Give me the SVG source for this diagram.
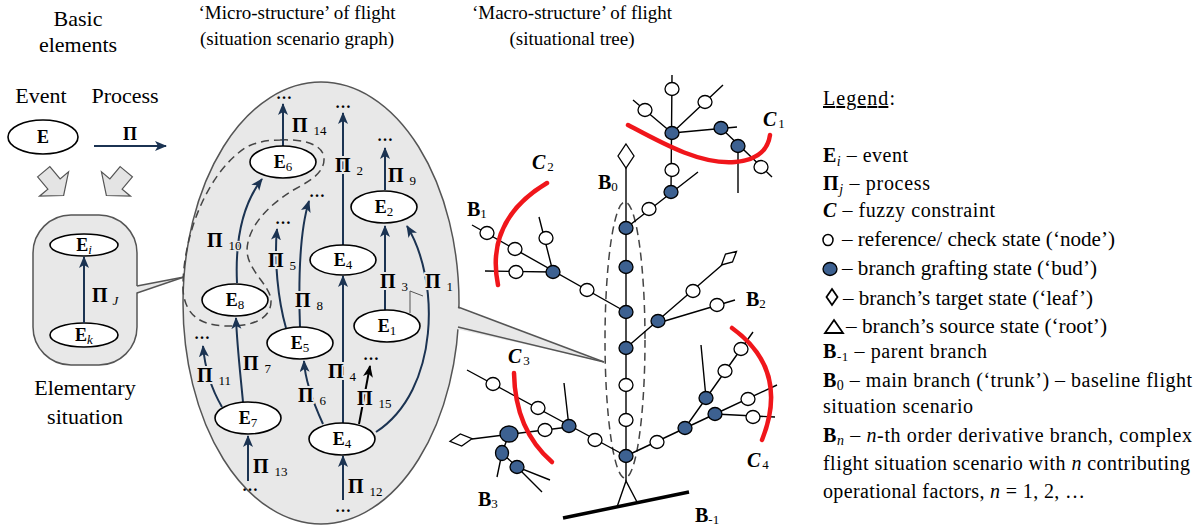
<svg xmlns="http://www.w3.org/2000/svg" width="1204" height="530" viewBox="0 0 1204 530">
<defs>
<style>
text{font-family:"Liberation Serif","Times New Roman",serif;fill:#000}
.h{font-size:19px;text-anchor:middle}
.hb{font-size:22px;text-anchor:middle}
.eb{font-size:18px;font-weight:bold;text-anchor:middle}
.sb{font-size:13px;font-weight:normal}
.pl{font-size:20px;font-weight:bold;stroke:#e8e8e8;stroke-width:4;paint-order:stroke;stroke-linejoin:round}
.ps{font-size:13px;font-weight:normal;stroke-width:2.5}
.dots{font-size:16px;font-weight:bold;text-anchor:middle}
.ev{fill:#fff;stroke:#000;stroke-width:1.6}
.ar{fill:none;stroke:#1b3352;stroke-width:2;marker-end:url(#ah)}
.ark{fill:none;stroke:#000;stroke-width:2;marker-end:url(#ahk)}
.tl{fill:none;stroke:#000;stroke-width:1.4}
.nd{fill:#fff;stroke:#000;stroke-width:1.3}
.bd{fill:#3d6191;stroke:#000;stroke-width:1.3}
.red{fill:none;stroke:#f0161b;stroke-width:4.5;stroke-linecap:round}
.bl{font-size:20px;font-weight:bold}
.cl{font-size:20px;font-weight:bold;font-style:italic}
.lg{font-size:20px}
.grey{fill:#e8e8e8;stroke:#555;stroke-width:1.5}
.dash{fill:none;stroke:#444;stroke-width:1.5;stroke-dasharray:8,5}
</style>
<marker id="ah" markerUnits="userSpaceOnUse" markerWidth="14" markerHeight="12" refX="11" refY="5" orient="auto"><path d="M0,0 L12,5 L0,10 L3,5 Z" fill="#1b3352"/></marker>
<marker id="ahk" markerUnits="userSpaceOnUse" markerWidth="14" markerHeight="12" refX="11" refY="5" orient="auto"><path d="M0,0 L12,5 L0,10 L3,5 Z" fill="#000"/></marker>
<path id="blk" d="M-8,-16 L8,-16 L8,0 L19,0 L0,15 L-19,0 L-8,0 Z" fill="#e4e4e4" stroke="#555" stroke-width="1.2"/>
</defs>

<!-- Headers -->
<g id="headers">
<text class="hb" x="78" y="26">Basic</text>
<text class="hb" x="78" y="52">elements</text>
<text class="h" x="297" y="19">‘Micro-structure’ of flight</text>
<text class="h" x="297" y="45">(situation scenario graph)</text>
<text class="h" x="572" y="19">‘Macro-structure’ of flight</text>
<text class="h" x="572" y="45">(situational tree)</text>
</g>

<!-- Basic elements -->
<g id="basic">
<text class="hb" x="41" y="103">Event</text>
<text class="hb" x="125" y="103">Process</text>
<ellipse class="ev" cx="43" cy="137" rx="35" ry="17"/>
<text class="eb" x="43" y="143">E</text>
<line x1="94" y1="146" x2="166" y2="146" class="ar"/>
<text class="eb" x="130" y="140" font-size="20">Π</text>
<use href="#blk" transform="translate(54,184) rotate(-40)"/>
<use href="#blk" transform="translate(116,184) rotate(40)"/>
</g>

<!-- Elementary situation -->
<g id="elementary">
<rect class="grey" x="33" y="215" width="104" height="150" rx="38" ry="38"/>
<polygon points="135.5,286.3 184,277 135.5,292.7" fill="#e8e8e8"/>
<line x1="137" y1="286" x2="184" y2="277" stroke="#555" stroke-width="1.5"/>
<line x1="137" y1="293" x2="184" y2="277" stroke="#555" stroke-width="1.5"/>
<ellipse class="ev" cx="84" cy="245" rx="34" ry="11"/>
<text class="eb" x="84" y="251">E<tspan class="sb" font-style="italic" dy="3">i</tspan></text>
<ellipse class="ev" cx="84" cy="335" rx="34" ry="12"/>
<text class="eb" x="84" y="341">E<tspan class="sb" font-style="italic" dy="3">k</tspan></text>
<line x1="84" y1="323" x2="84" y2="257" class="ar"/>
<text class="pl" x="92" y="302">Π<tspan class="ps" font-style="italic" dx="5" dy="3">J</tspan></text>
<text class="hb" x="85" y="395">Elementary</text>
<text class="hb" x="85" y="424">situation</text>
</g>

<!-- Micro-structure ellipse -->
<g id="micro-frame">
<ellipse class="grey" cx="321" cy="303" rx="138" ry="221"/>
<polygon points="452,306 604,362 452,328" fill="#e8e8e8"/>
<line x1="458" y1="307" x2="604" y2="362" stroke="#555" stroke-width="1.5"/>
<line x1="458" y1="327" x2="604" y2="362" stroke="#555" stroke-width="1.5"/>
<path class="dash" d="M280,140 C300,139 323,143 324,158 C325,175 305,183 290,192 C270,205 248,225 247,250 C247,270 270,285 271,300 C272,320 250,327 225,326 C200,325 185,315 183,290 C182,240 205,175 245,148 C255,142 268,140 280,140 Z"/>
<path d="M410,313 L410,291 L423,296" fill="none" stroke="#555" stroke-width="1"/>
</g>

<!-- Micro connectors -->
<g id="micro-connectors">
<path class="ar" d="M283,146 L283,104"/>
<path class="ar" d="M343,245 L343,113"/>
<path class="ar" d="M385,190 L385,148"/>
<path class="ar" d="M385,310 L385,226"/>
<path class="ar" d="M376,432 C440,390 440,280 407,226"/>
<path class="ar" d="M343,425 L343,276"/>
<path class="ark" d="M359,424 L370,366"/>
<path class="ar" d="M323,424 C312,400 305,380 304,361"/>
<path class="ar" d="M300,327 C298,270 300,230 309,201"/>
<path class="ar" d="M286,328 C278,300 274,260 277,229"/>
<path class="ar" d="M237,283 C235,240 242,205 262,179"/>
<path class="ar" d="M243,402 C240,370 237,345 236,318"/>
<path class="ar" d="M222,407 C212,390 205,370 203,346"/>
<path class="ar" d="M248,481 L248,436"/>
<path class="ar" d="M343,500 L343,456"/>
</g>

<!-- Micro labels -->
<g id="micro-labels">
<text class="dots" x="284" y="99">…</text>
<text class="dots" x="343" y="108">…</text>
<text class="dots" x="385" y="141">…</text>
<text class="dots" x="371" y="360">…</text>
<text class="dots" x="317" y="197">…</text>
<text class="dots" x="283" y="224">…</text>
<text class="dots" x="202" y="339">…</text>
<text class="dots" x="250" y="491">…</text>
<text class="dots" x="343" y="512">…</text>
<text class="pl" x="292" y="132">Π<tspan class="ps" dx="6" dy="3">14</tspan></text>
<text class="pl" x="335" y="172">Π<tspan class="ps" dx="6" dy="3">2</tspan></text>
<text class="pl" x="388" y="182">Π<tspan class="ps" dx="6" dy="3">9</tspan></text>
<text class="pl" x="380" y="288">Π<tspan class="ps" dx="6" dy="3">3</tspan></text>
<text class="pl" x="425" y="288">Π<tspan class="ps" dx="6" dy="3">1</tspan></text>
<text class="pl" x="328" y="378">Π<tspan class="ps" dx="6" dy="3">4</tspan></text>
<text class="pl" x="357" y="405">Π<tspan class="ps" dx="6" dy="3">15</tspan></text>
<text class="pl" x="298" y="402">Π<tspan class="ps" dx="6" dy="3">6</tspan></text>
<text class="pl" x="295" y="307">Π<tspan class="ps" dx="6" dy="3">8</tspan></text>
<text class="pl" x="268" y="267">Π<tspan class="ps" dx="6" dy="3">5</tspan></text>
<text class="pl" x="207" y="247">Π<tspan class="ps" dx="6" dy="3">10</tspan></text>
<text class="pl" x="243" y="370">Π<tspan class="ps" dx="6" dy="3">7</tspan></text>
<text class="pl" x="197" y="382">Π<tspan class="ps" dx="6" dy="3">11</tspan></text>
<text class="pl" x="253" y="473">Π<tspan class="ps" dx="6" dy="3">13</tspan></text>
<text class="pl" x="348" y="493">Π<tspan class="ps" dx="6" dy="3">12</tspan></text>
</g>

<!-- Micro nodes -->
<g id="E6"><ellipse class="ev" cx="283" cy="162" rx="33" ry="16"/><text class="eb" x="283" y="168">E<tspan class="sb" dy="3">6</tspan></text></g>
<g id="E4a"><ellipse class="ev" cx="343" cy="260" rx="33" ry="15"/><text class="eb" x="343" y="266">E<tspan class="sb" dy="3">4</tspan></text></g>
<g id="E2"><ellipse class="ev" cx="384" cy="207" rx="33" ry="16"/><text class="eb" x="384" y="213">E<tspan class="sb" dy="3">2</tspan></text></g>
<g id="E8"><ellipse class="ev" cx="235" cy="300" rx="33" ry="16"/><text class="eb" x="235" y="306">E<tspan class="sb" dy="3">8</tspan></text></g>
<g id="E5"><ellipse class="ev" cx="300" cy="343" rx="33" ry="16"/><text class="eb" x="300" y="349">E<tspan class="sb" dy="3">5</tspan></text></g>
<g id="E1"><ellipse class="ev" cx="387" cy="326" rx="33" ry="16"/><text class="eb" x="387" y="332">E<tspan class="sb" dy="3">1</tspan></text></g>
<g id="E7"><ellipse class="ev" cx="248" cy="418" rx="33" ry="16"/><text class="eb" x="248" y="424">E<tspan class="sb" dy="3">7</tspan></text></g>
<g id="E4b"><ellipse class="ev" cx="342" cy="439" rx="33" ry="16"/><text class="eb" x="342" y="445">E<tspan class="sb" dy="3">4</tspan></text></g>

<!-- Tree -->
<g id="tree-lines">
<ellipse cx="625" cy="340" rx="20" ry="138" class="dash"/>
<path class="tl" d="M626,168 L626,481"/>
<path d="M563,518 L689,492" stroke="#000" stroke-width="3.5" fill="none"/>
<path class="tl" d="M617,507 L626,481 L637,502"/>
<path class="tl" d="M626,228 L698,172 M671,192 L672,75 M672,133 L633,100 M672,133 L723,85 M672,133 L737,127 M721,128 L772,177 M738,146 L738,193"/>
<path class="tl" d="M626,312 L472,225 M553,272 L485,271 M553,272 L539,217"/>
<path class="tl" d="M626,348 L722,265 M658,323 L735,300"/>
<path class="tl" d="M626,456 L715,414 M715,414 L775,417 M715,414 L777,385 M685,428 L753,332 M706,398 L701,345"/>
<path class="tl" d="M626,456 L467,370 M569,427 L564,383 M569,427 L472,439 M509,434 L502,453 L497,477 M502,453 L517,467 L550,480 M517,467 L542,492"/>
</g>
<g id="tree-nodes">
<polygon class="nd" points="626,144 634,156 626,168 618,156"/>
<polygon class="nd" points="721.5,265 725.5,254 736.5,251.5 732.5,262"/>
<polygon class="nd" points="472,438.7 461.7,446 450,441.3 460.3,434"/>
<ellipse class="bd" cx="626" cy="228" rx="7" ry="6.5"/>
<ellipse class="bd" cx="626" cy="267" rx="7" ry="6.5"/>
<ellipse class="bd" cx="626" cy="312" rx="7" ry="6.5"/>
<ellipse class="bd" cx="626" cy="348" rx="7" ry="6.5"/>
<ellipse class="nd" cx="626" cy="385" rx="7" ry="6.5"/>
<ellipse class="nd" cx="626" cy="420" rx="7" ry="6.5"/>
<ellipse class="bd" cx="626" cy="456" rx="7" ry="6.5"/>
<ellipse class="nd" cx="649" cy="209" rx="7" ry="6.5"/>
<ellipse class="bd" cx="671" cy="192" rx="7" ry="6.5"/>
<ellipse class="nd" cx="672" cy="170" rx="7" ry="6.5"/>
<ellipse class="bd" cx="672" cy="133" rx="7" ry="6.5"/>
<ellipse class="nd" cx="672" cy="89" rx="7" ry="6.5"/>
<ellipse class="nd" cx="645" cy="110" rx="7" ry="6.5"/>
<ellipse class="nd" cx="705" cy="102" rx="7" ry="6.5"/>
<ellipse class="bd" cx="721" cy="128" rx="7" ry="6.5"/>
<ellipse class="bd" cx="738" cy="146" rx="7" ry="6.5"/>
<ellipse class="nd" cx="761" cy="167" rx="7" ry="6.5"/>
<ellipse class="nd" cx="587" cy="290" rx="7" ry="6.5"/>
<ellipse class="bd" cx="553" cy="272" rx="7" ry="6.5"/>
<ellipse class="nd" cx="515" cy="249" rx="7" ry="6.5"/>
<ellipse class="nd" cx="487" cy="233" rx="7" ry="6.5"/>
<ellipse class="nd" cx="516" cy="272" rx="7" ry="6.5"/>
<ellipse class="nd" cx="546" cy="238" rx="7" ry="6.5"/>
<ellipse class="bd" cx="658" cy="321" rx="7" ry="6.5"/>
<ellipse class="nd" cx="693" cy="291" rx="7" ry="6.5"/>
<ellipse class="nd" cx="717" cy="305" rx="7" ry="6.5"/>
<ellipse class="nd" cx="657" cy="442" rx="7" ry="6.5"/>
<ellipse class="bd" cx="685" cy="428" rx="7" ry="6.5"/>
<ellipse class="bd" cx="715" cy="414" rx="7" ry="6.5"/>
<ellipse class="nd" cx="753" cy="417" rx="7" ry="6.5"/>
<ellipse class="nd" cx="748" cy="399" rx="7" ry="6.5"/>
<ellipse class="bd" cx="706" cy="398" rx="7" ry="6.5"/>
<ellipse class="nd" cx="725" cy="371" rx="7" ry="6.5"/>
<ellipse class="nd" cx="741" cy="349" rx="7" ry="6.5"/>
<ellipse class="nd" cx="595" cy="440" rx="7" ry="6.5"/>
<ellipse class="bd" cx="569" cy="426" rx="7" ry="6.5"/>
<ellipse class="nd" cx="538" cy="408" rx="7" ry="6.5"/>
<ellipse class="nd" cx="493" cy="384" rx="7" ry="6.5"/>
<ellipse class="nd" cx="545" cy="430" rx="7" ry="6.5"/>
<ellipse class="bd" cx="509" cy="434" rx="9" ry="8"/>
<ellipse class="bd" cx="502" cy="453" rx="6.5" ry="7.5"/>
<ellipse class="bd" cx="517" cy="467" rx="7" ry="6.5"/>
</g>
<g id="constraints">
<path class="red" d="M628,125 C660,142 700,165 735,162 C757,160 768,150 770,135"/>
<path class="red" d="M547,183 Q485,220 498,285"/>
<path class="red" d="M514,373 Q515,430 552,462"/>
<path class="red" d="M732,328 Q790,370 762,440"/>
</g>
<g id="tree-labels">
<text class="cl" x="763" y="126">C<tspan class="sb" font-style="normal" dx="2" dy="2">1</tspan></text>
<text class="cl" x="532" y="169">C<tspan class="sb" font-style="normal" dx="2" dy="2">2</tspan></text>
<text class="cl" x="508" y="363">C<tspan class="sb" font-style="normal" dx="2" dy="2">3</tspan></text>
<text class="cl" x="747" y="467">C<tspan class="sb" font-style="normal" dx="2" dy="2">4</tspan></text>
<text class="bl" x="598" y="189">B<tspan class="sb" dy="2">0</tspan></text>
<text class="bl" x="467" y="216">B<tspan class="sb" dy="2">1</tspan></text>
<text class="bl" x="746" y="306">B<tspan class="sb" dy="2">2</tspan></text>
<text class="bl" x="478" y="506">B<tspan class="sb" dy="2">3</tspan></text>
<text class="bl" x="695" y="522">B<tspan class="sb" dy="2">-1</tspan></text>
</g>

<!-- Legend -->
<g id="legend">
<text class="lg" x="823" y="105" textLength="72" lengthAdjust="spacing"><tspan text-decoration="underline">Legend</tspan>:</text>
<text class="lg" x="823" y="162" textLength="85" lengthAdjust="spacing"><tspan font-weight="bold">E</tspan><tspan font-size="14" font-style="italic" dy="4">i</tspan><tspan dy="-4"> – event</tspan></text>
<text class="lg" x="823" y="190" textLength="107" lengthAdjust="spacing"><tspan font-weight="bold">Π</tspan><tspan font-size="14" font-style="italic" dy="4">j</tspan><tspan dy="-4"> – process</tspan></text>
<text class="lg" x="823" y="217" textLength="172" lengthAdjust="spacing"><tspan font-weight="bold" font-style="italic">C</tspan> – fuzzy constraint</text>
<ellipse cx="828" cy="240" rx="5" ry="5.5" fill="#fff" stroke="#000" stroke-width="1.5"/>
<text class="lg" x="842" y="246" textLength="273" lengthAdjust="spacingAndGlyphs">– reference/ check state (‘node’)</text>
<ellipse cx="830" cy="269" rx="7" ry="6.5" class="bd"/>
<text class="lg" x="842" y="275" textLength="255" lengthAdjust="spacingAndGlyphs">– branch grafting state (‘bud’)</text>
<polygon points="832,289 837.5,297 832,305 826.5,297" fill="#fff" stroke="#000" stroke-width="1.8"/>
<text class="lg" x="843" y="305" textLength="250" lengthAdjust="spacingAndGlyphs">– branch’s target state (‘leaf’)</text>
<polygon points="834,320 843,333 825,333" fill="#fff" stroke="#000" stroke-width="1.8"/>
<text class="lg" x="846" y="333" textLength="261" lengthAdjust="spacingAndGlyphs">– branch’s source state (‘root’)</text>
<text class="lg" x="823" y="358" textLength="164" lengthAdjust="spacing"><tspan font-weight="bold">B</tspan><tspan font-size="13" dy="3">-1</tspan><tspan dy="-3"> – parent branch</tspan></text>
<text class="lg" x="823" y="387" textLength="369" lengthAdjust="spacing"><tspan font-weight="bold">B</tspan><tspan font-size="14" dy="3">0</tspan><tspan dy="-3"> – main branch (‘trunk’) – baseline flight</tspan></text>
<text class="lg" x="823" y="413" textLength="150" lengthAdjust="spacing">situation scenario</text>
<text class="lg" x="823" y="442" textLength="369" lengthAdjust="spacing"><tspan font-weight="bold">B</tspan><tspan font-size="14" font-style="italic" dy="3">n</tspan><tspan dy="-3"> – </tspan><tspan font-style="italic">n</tspan>-th order derivative branch, complex</text>
<text class="lg" x="823" y="470" textLength="367" lengthAdjust="spacing">flight situation scenario with <tspan font-style="italic">n</tspan> contributing</text>
<text class="lg" x="823" y="498" textLength="262" lengthAdjust="spacing">operational factors, <tspan font-style="italic">n</tspan> = 1, 2, …</text>
</g>
</svg>
